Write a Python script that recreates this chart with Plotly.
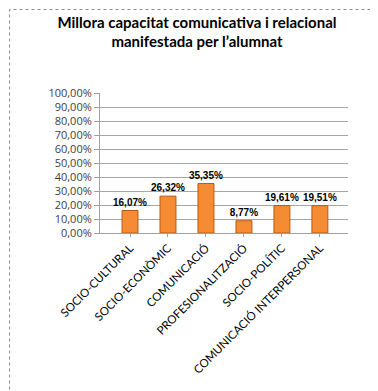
import plotly.graph_objects as go

categories = ["SOCIO-CULTURAL", "SOCIO-ECONÒMIC", "COMUNICACIÓ",
              "PROFESIONALITZACIÓ", "SOCIO-POLÍTIC", "COMUNICACIÓ INTERPERSONAL"]
values = [16.07, 26.32, 35.35, 8.77, 19.61, 19.51]
tick_vals = [0, 10, 20, 30, 40, 50, 60, 70, 80, 90, 100]
tick_text = ["0,00%", "10,00%", "20,00%", "30,00%", "40,00%", "50,00%",
             "60,00%", "70,00%", "80,00%", "90,00%", "100,00%"]
labels = [f"<b>{v:.2f}%</b>".replace(".", ",") for v in values]

W, H = 378, 391
L, R, T, B = 92, 38, 85, 166
pw, ph = W - L - R, H - T - B

fig = go.Figure()
fig.add_trace(go.Bar(
    x=categories, y=values,
    marker=dict(color="#F58B33", line=dict(color="#B85A12", width=1)),
    text=labels, textposition="outside", constraintext="none",
    textfont=dict(family="Liberation Sans", size=10, color="black"),
    cliponaxis=False, width=0.42,
))

fig.update_layout(
    width=W, height=H,
    margin=dict(l=L, r=R, t=T, b=B),
    paper_bgcolor="white", plot_bgcolor="white",
    title=dict(text="<b>Millora capacitat comunicativa i relacional<br>manifestada per l’alumnat</b>",
               x=0.5, xanchor="center", y=0.95, yanchor="top",
               font=dict(family="Lato", size=15, color="black")),
    font=dict(family="Lato", color="#404040"),
    showlegend=False,
    xaxis=dict(range=[-0.79, 5.74], tickangle=-45,
               tickfont=dict(size=11.5, color="black"),
               showline=True, linecolor="#A0A0A0", ticks="outside",
               ticklen=3, tickcolor="#A0A0A0"),
    yaxis=dict(range=[0, 100], tickvals=tick_vals, ticktext=tick_text,
               tickfont=dict(family="Open Sans", size=11, color="#404040"),
               showgrid=True, gridcolor="#A6A6A6", gridwidth=1,
               showline=True, linecolor="#A0A0A0", ticks="outside",
               ticklen=5, tickcolor="#A0A0A0", zeroline=False),
    shapes=[dict(type="rect", xref="paper", yref="paper",
                 x0=(1.5 - L) / pw, x1=(W - 2.5 - L) / pw,
                 y0=-(H - 2.5 - T - ph) / ph, y1=1 + (T - 1.5) / ph,
                 line=dict(color="#8C8C8C", width=1, dash="dot"))],
)

fig.write_html("out.html")
